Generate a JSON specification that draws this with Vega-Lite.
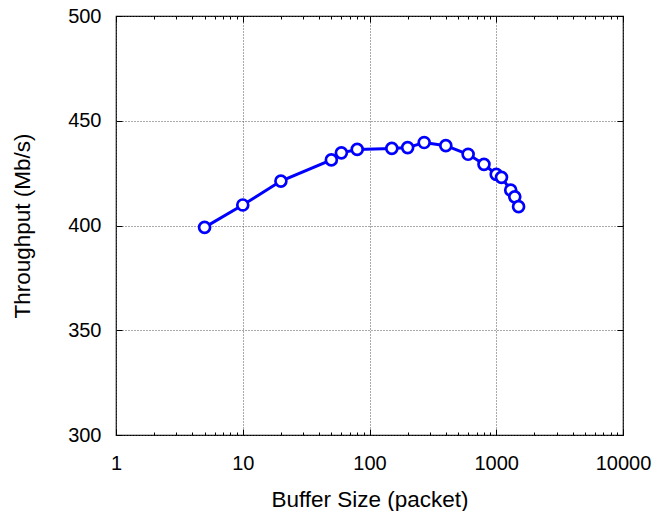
{
  "$schema": "https://vega.github.io/schema/vega-lite/v6.json",
  "width": 507,
  "height": 419,
  "autosize": {"type": "none"},
  "padding": {"left": 116, "top": 16, "right": 35, "bottom": 76},
  "background": "white",
  "config": {
    "view": {"stroke": "#000", "strokeWidth": 1.2},
    "axis": {
      "labelFont": "Liberation Sans",
      "titleFont": "Liberation Sans",
      "labelFontSize": 20,
      "titleFontSize": 22.5,
      "titleFontWeight": "normal",
      "labelColor": "#000",
      "titleColor": "#000",
      "domain": false,
      "tickColor": "#000",
      "tickWidth": 1,
      "gridColor": "#555",
      "gridDash": [1, 2],
      "gridWidth": 1,
      "labelOverlap": false,
      "labelFlush": false,
      "labelBound": false
    }
  },
  "data": {
    "values": [
      {"buffer": 5, "throughput": 399.1},
      {"buffer": 10, "throughput": 409.8},
      {"buffer": 20, "throughput": 421.2},
      {"buffer": 50, "throughput": 431.3},
      {"buffer": 60, "throughput": 434.7},
      {"buffer": 80, "throughput": 436.3},
      {"buffer": 150, "throughput": 436.8},
      {"buffer": 200, "throughput": 437.2},
      {"buffer": 270, "throughput": 439.6},
      {"buffer": 400, "throughput": 438.1},
      {"buffer": 600, "throughput": 434.0},
      {"buffer": 800, "throughput": 429.2},
      {"buffer": 1000, "throughput": 424.4},
      {"buffer": 1100, "throughput": 423.0},
      {"buffer": 1300, "throughput": 416.9},
      {"buffer": 1400, "throughput": 413.7},
      {"buffer": 1500, "throughput": 409.0}
    ]
  },
  "layer": [
    {
      "mark": {"type": "line", "color": "#0000ff", "strokeWidth": 3},
      "encoding": {
        "x": {
          "field": "buffer",
          "type": "quantitative",
          "scale": {"type": "log", "domain": [1, 10000]},
          "axis": {
            "orient": "bottom",
            "title": "Buffer Size (packet)",
            "values": [1,2,3,4,5,6,7,8,9,10,20,30,40,50,60,70,80,90,100,200,300,400,500,600,700,800,900,1000,2000,3000,4000,5000,6000,7000,8000,9000,10000],
            "labelExpr": "indexof([1,10,100,1000,10000], datum.value) >= 0 ? format(datum.value, 'd') : ''",
            "grid": true,
            "gridOpacity": {"condition": {"test": "indexof([1,10,100,1000,10000], datum.value) >= 0", "value": 1}, "value": 0},
            "tickSize": {"condition": {"test": "indexof([1,10,100,1000,10000], datum.value) >= 0", "value": -6}, "value": -3},
            "labelPadding": 24,
            "titlePadding": 12
          }
        },
        "y": {
          "field": "throughput",
          "type": "quantitative",
          "scale": {"domain": [300, 500], "zero": false},
          "axis": {
            "orient": "left",
            "title": "Throughput (Mb/s)",
            "values": [300, 350, 400, 450, 500],
            "grid": true,
            "tickSize": -6,
            "labelPadding": 21,
            "titlePadding": 33
          }
        }
      }
    },
    {
      "mark": {"type": "point", "shape": "circle", "filled": true, "fill": "white", "stroke": "#0000ff", "strokeWidth": 2.7, "size": 120, "opacity": 1},
      "encoding": {
        "x": {
          "field": "buffer",
          "type": "quantitative",
          "scale": {"type": "log", "domain": [1, 10000]},
          "axis": {
            "orient": "top",
            "title": null,
            "labels": false,
            "grid": false,
            "values": [1,2,3,4,5,6,7,8,9,10,20,30,40,50,60,70,80,90,100,200,300,400,500,600,700,800,900,1000,2000,3000,4000,5000,6000,7000,8000,9000,10000],
            "tickSize": {"condition": {"test": "indexof([1,10,100,1000,10000], datum.value) >= 0", "value": -6}, "value": -3}
          }
        },
        "y": {
          "field": "throughput",
          "type": "quantitative",
          "scale": {"domain": [300, 500], "zero": false},
          "axis": {
            "orient": "right",
            "title": null,
            "labels": false,
            "grid": false,
            "values": [300, 350, 400, 450, 500],
            "tickSize": -6
          }
        }
      }
    }
  ],
  "resolve": {"axis": {"x": "independent", "y": "independent"}}
}
